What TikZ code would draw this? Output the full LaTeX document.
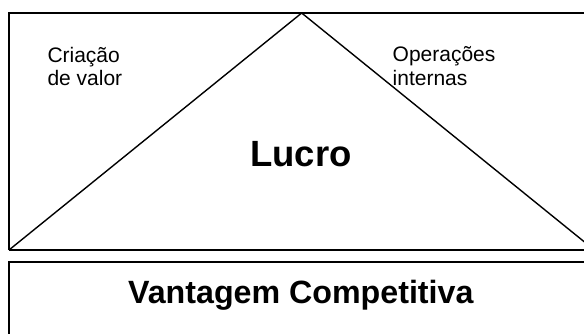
\documentclass[tikz,border=0pt]{standalone}
\usepackage{fontspec}
\setmainfont{Liberation Sans}
\begin{document}
\begin{tikzpicture}[x=1pt,y=-1pt,
  frame/.style={line width=2pt},
  roof/.style={line width=1.4pt},
  smalltxt/.style={inner sep=0pt,anchor=base west,font=\fontsize{21}{23}\selectfont},
  bigtxt/.style={inner sep=0pt,anchor=base,font=\bfseries\fontsize{36.5}{40}\selectfont},
  bartxt/.style={inner sep=0pt,anchor=base,font=\bfseries\fontsize{32.2}{36}\selectfont}]
  \useasboundingbox (0,0) rectangle (584,333);
  \clip (0,0) rectangle (584,333);
  % corner points of the two boxes and the triangle
  \coordinate (tl) at (9,13);
  \coordinate (tr) at (600,13);
  \coordinate (bl) at (9,250);
  \coordinate (br) at (600,250);
  \coordinate (apex) at (301.7,13);
  \coordinate (base r) at (594.4,250);
  \coordinate (lowtl) at (9,262);
  \coordinate (lowtr) at (600,262);
  \coordinate (lowbl) at (9,345);
  % upper box
  \draw[frame] (bl) -- (tl) -- (tr);
  \draw[frame] (bl) -- (br);
  % triangle
  \draw[roof,line join=miter] (bl) -- (apex) -- (base r);
  % lower box
  \draw[frame] (lowbl) -- (lowtl) -- (lowtr);
  % labels
  \node[smalltxt] (cv1) at (47.3,62.7) {Criação};
  \node[smalltxt] (cv2) at (47.3,85.7) {de valor};
  \node[smalltxt] (oi1) at (392.5,61.7) {Operações};
  \node[smalltxt] (oi2) at (392.5,85) {internas};
  \node[bigtxt] (lucro) at (301,166.7) {Lucro};
  \node[bartxt] (vc) at (300.8,303.3) {Vantagem Competitiva};
\end{tikzpicture}
\end{document}
